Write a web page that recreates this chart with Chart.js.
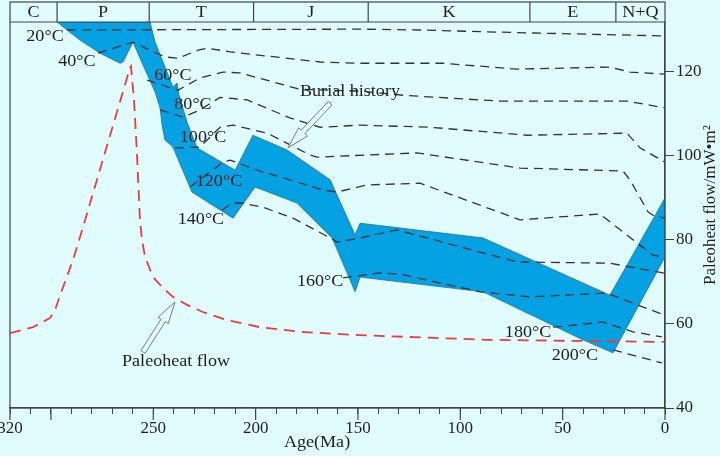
<!DOCTYPE html>
<html>
<head>
<meta charset="utf-8">
<script src="https://cdn.jsdelivr.net/npm/chart.js@4.4.1/dist/chart.umd.min.js"></script>
<style>
  html, body { margin: 0; padding: 0; background: #e1fcfd; }
</style>
</head>
<body>
<canvas id="myChart" width="720" height="456"></canvas>
<script>
// geologic periods on the top band (boundaries in Ma)
const periods = ['C', 'P', 'T', 'J', 'K', 'E', 'N+Q'];
const periodBounds = [320, 297, 252, 201, 145, 66, 24, 0];

const ageLabels = [320, 250, 200, 150, 100, 50, 0];
const ageMajor = [320, 300, 250, 200, 150, 100, 50, 0];
const flowTicks = [40, 60, 80, 100, 120];

// paleoheat flow curve (Ma, mW/m2)
const heatAge = [320, 308.8, 300.4, 298, 294.1, 289.2, 284.3, 261.4, 260.9, 259.4, 258, 256.5, 255.5, 254, 250.1, 245.2, 240.4, 233.5, 225.7, 214, 197.9, 178.3, 149, 87, 0];
const heatFlow = [57.8, 59.2, 61.4, 63.3, 68.7, 75.2, 83.0, 120.8, 121.2, 113.2, 100.6, 84.7, 79.9, 75.9, 71.1, 68.5, 66.4, 64.5, 62.8, 60.9, 59.2, 58.1, 57.3, 56.2, 55.7];

// burial history band outline, read in the same plot units
const burialAge = [297.0, 251.6, 249.1, 243.3, 240.4, 238.4, 237.4, 233.5, 228.6, 210.0, 201.3, 184.7, 163.6, 151.4, 149.0, 88.9, 26.9, 0, 0, 25.4, 40.1, 88.9, 149.0, 151.4, 162.6, 179.8, 200.3, 211.0, 231.1, 240.4, 244.3, 245.7, 246.7, 249.1, 255.0, 259.9, 262.3, 264.8, 266.2, 276.0, 285.8, 292.1, 297.0];
const burialVal = [131.7, 131.7, 126.9, 119.8, 116.2, 117.2, 114.3, 107.9, 101.8, 96.5, 104.8, 101.3, 94.2, 81.1, 83.9, 80.4, 66.8, 89.9, 75.9, 53.1, 56.2, 67.6, 71.1, 67.6, 80.4, 88.7, 92.5, 85.1, 91.3, 102.0, 103.7, 107.2, 111.3, 115.1, 121.5, 126.9, 124.6, 122.2, 121.9, 124.3, 127.4, 129.8, 131.7];

// isotherms [Ma, value]
const iso20 = [[292.1, 129.8], [149.0, 130.0], [119.7, 129.8], [66.0, 129.1], [0, 128.4]];
const iso40 = [[277.0, 124.3], [259.9, 126.9], [251.6, 125.0], [244.3, 123.4], [237.9, 123.1], [228.1, 125.0], [223.7, 125.5], [212.5, 124.6], [168.5, 122.2], [149.0, 121.9], [108.5, 121.9], [72.3, 120.5], [26.9, 121.0], [17.1, 119.8], [0, 119.3]];
const iso60 = [[253.0, 117.9], [237.9, 115.5], [227.2, 118.4], [215.9, 119.8], [207.6, 119.6], [189.5, 117.2], [178.3, 115.7], [149.0, 115.3], [128.0, 114.3], [80.6, 112.9], [18.6, 112.9], [0, 111.3]];
const iso80 = [[246.7, 110.8], [235.5, 109.1], [227.2, 110.8], [217.4, 113.8], [204.2, 113.2], [183.2, 108.9], [168.5, 106.7], [149.0, 107.2], [114.8, 106.7], [67.4, 104.8], [18.6, 105.3], [12.2, 101.8], [0, 98.4]];
const iso100 = [[239.4, 101.8], [227.2, 102.0], [217.4, 106.7], [211.0, 107.2], [194.4, 105.3], [173.4, 100.1], [170.0, 99.6], [121.2, 100.6], [70.8, 97.0], [20.5, 96.3], [17.1, 94.2], [8.3, 86.6], [5.9, 85.8], [0, 85.1]];
const iso120 = [[232.0, 92.5], [215.9, 98.4], [212.5, 98.9], [199.3, 96.5], [179.8, 93.7], [167.1, 91.8], [160.2, 91.3], [145.6, 93.0], [119.7, 93.4], [70.8, 84.7], [31.8, 86.1], [5.9, 76.3], [0, 75.9]];
const iso140 = [[216.4, 87.0], [211.5, 88.7], [206.6, 88.7], [196.4, 87.7], [181.7, 85.1], [163.6, 80.4], [160.2, 79.4], [149.0, 80.4], [130.9, 82.3], [72.3, 74.7], [26.9, 74.4], [0, 72.0]];
const iso160 = [[157.3, 70.9], [139.2, 72.1], [129.5, 71.8], [90.4, 67.6], [66.0, 66.4], [28.3, 67.3], [15.6, 64.9], [1.5, 62.3]];
const iso180 = [[54.7, 59.2], [30.3, 60.4], [15.6, 58.1], [1.5, 56.9]];
const iso200 = [[25.4, 53.8], [1.5, 50.7]];

const isoTexts = ['20°C', '40°C', '60°C', '80°C', '100°C', '120°C', '140°C', '160°C', '180°C', '200°C'];
const isoTextAt = [[302.9, 128.1], [287.3, 122.2], [240.4, 118.9], [230.6, 112.0], [225.7, 104.1], [217.9, 93.7], [226.7, 84.7], [168.5, 69.9], [66.9, 57.8], [44.0, 52.4]];

const bg = '#e1fcfd';
const ink = '#231f20';
const serif = "'Liberation Serif', 'Times New Roman', serif";

function toPoints(list) {
    return list.map(p => ({x: p[0], y: p[1]}));
}

// the source figure's lettering is a little wide, so stretch it sideways
function wideText(ctx, text, x, y) {
    ctx.save();
    ctx.translate(x, y);
    ctx.scale(1.13, 1);
    ctx.fillText(text, 0, 0);
    ctx.restore();
}

function hollowArrow(ctx, x1, y1, x2, y2) {
    const dx = x2 - x1, dy = y2 - y1, len = Math.hypot(dx, dy);
    const ux = dx / len, uy = dy / len, nx = -uy, ny = ux;
    const head = 22, hw = 6, sw = 2.5;
    const bx = x2 - ux * head, by = y2 - uy * head;
    const p = [
        [x1 + nx * sw, y1 + ny * sw], [bx + nx * sw, by + ny * sw], [bx + nx * hw, by + ny * hw], [x2, y2],
        [bx - nx * hw, by - ny * hw], [bx - nx * sw, by - ny * sw], [x1 - nx * sw, y1 - ny * sw]
    ];
    ctx.beginPath();
    p.forEach((q, i) => i ? ctx.lineTo(q[0], q[1]) : ctx.moveTo(q[0], q[1]));
    ctx.closePath();
    ctx.fillStyle = bg;
    ctx.fill();
    ctx.strokeStyle = '#7d7d7d';
    ctx.lineWidth = 1;
    ctx.stroke();
}

const decor = {
    id: 'decor',
    beforeDraw(chart) {
        const ctx = chart.ctx;
        ctx.save();
        ctx.fillStyle = bg;
        ctx.fillRect(0, 0, chart.width, chart.height);
        ctx.restore();
    },
    afterDatasetsDraw(chart) {
        const ctx = chart.ctx, xs = chart.scales.x, ys = chart.scales.y;
        const px = a => xs.getPixelForValue(a), py = v => ys.getPixelForValue(v);
        ctx.save();
        // arrows
        hollowArrow(ctx, px(163.6), py(112.4), px(184.2), py(101.8));
        hollowArrow(ctx, px(255.0), py(53.3), px(239.4), py(65.2));
        ctx.fillStyle = ink;
        ctx.font = '16px ' + serif;
        ctx.textAlign = 'center';
        ctx.textBaseline = 'middle';
        isoTexts.forEach((t, i) => wideText(ctx, t, px(isoTextAt[i][0]), py(isoTextAt[i][1])));
        wideText(ctx, 'Burial history', px(153.9), py(115.1));
        wideText(ctx, 'Paleoheat flow', px(238.9), py(50.9));
        ctx.restore();
    },
    afterDraw(chart) {
        const ctx = chart.ctx, area = chart.chartArea, xs = chart.scales.x;
        const top = 2;
        ctx.save();
        ctx.strokeStyle = '#444';
        ctx.lineWidth = 1.2;
        ctx.strokeRect(area.left, top, area.right - area.left, area.bottom - top);
        ctx.beginPath();
        ctx.moveTo(area.left, area.top);
        ctx.lineTo(area.right, area.top);
        for (let i = 1; i < periodBounds.length - 1; i++) {
            const x = xs.getPixelForValue(periodBounds[i]);
            ctx.moveTo(x, top);
            ctx.lineTo(x, area.top);
        }
        // longer ticks every 50 Ma
        for (const v of ageMajor) {
            const x = xs.getPixelForValue(v);
            ctx.moveTo(x, area.bottom);
            ctx.lineTo(x, area.bottom + 12);
        }
        ctx.stroke();

        ctx.fillStyle = ink;
        ctx.font = '16px ' + serif;
        ctx.textAlign = 'center';
        ctx.textBaseline = 'middle';
        for (let i = 0; i < periods.length; i++) {
            const x = (xs.getPixelForValue(periodBounds[i]) + xs.getPixelForValue(periodBounds[i + 1])) / 2;
            wideText(ctx, periods[i], x, (top + area.top) / 2 + 1);
        }
        wideText(ctx, 'Age(Ma)', xs.getPixelForValue(170), 443);

        ctx.translate(711, 205);
        ctx.rotate(-Math.PI / 2);
        ctx.font = '17px ' + serif;
        ctx.fillText('Paleoheat flow/mW•m²', 0, 0);
        ctx.restore();
    }
};

const lineStyle = {borderColor: '#333', borderWidth: 1.3, borderDash: [9, 6], pointRadius: 0, fill: false, order: 2};
const isoLines = [iso20, iso40, iso60, iso80, iso100, iso120, iso140, iso160, iso180, iso200];

const datasets = [{
    label: 'Paleoheat flow',
    data: heatAge.map((a, i) => ({x: a, y: heatFlow[i]})),
    borderColor: '#f23a3a',
    borderWidth: 1.8,
    borderDash: [11, 7],
    pointRadius: 0,
    fill: false,
    order: 1
}];
isoLines.forEach((l, i) => datasets.push(Object.assign({label: isoTexts[i], data: toPoints(l)}, lineStyle)));
datasets.push({
    label: 'Burial history',
    data: burialAge.map((a, i) => ({x: a, y: burialVal[i]})),
    backgroundColor: '#04a1e3',
    borderColor: '#1d6f9c',
    borderWidth: 0.8,
    pointRadius: 0,
    fill: 'shape',
    order: 3
});

const ctx = document.getElementById('myChart');
const myChart = new Chart(ctx, {
    type: 'line',
    data: {datasets},
    plugins: [decor],
    options: {
        responsive: false,
        animation: false,
        layout: {padding: {left: 10, top: 22, right: 0, bottom: 0}},
        plugins: {legend: {display: false}, tooltip: {enabled: false}},
        scales: {
            x: {
                type: 'linear',
                min: 0,
                max: 320,
                reverse: true,
                afterBuildTicks: scale => {
                    const t = [];
                    for (let v = 0; v <= 320; v += 10) t.push({value: v});
                    scale.ticks = t;
                },
                afterFit: scale => { scale.height = 48; },
                grid: {drawOnChartArea: false, tickLength: 6, color: '#444'},
                border: {color: '#444', width: 1.2},
                ticks: {
                    autoSkip: false,
                    maxRotation: 0,
                    minRotation: 0,
                    padding: 4,
                    color: ink,
                    font: {family: serif, size: 17},
                    callback: v => ageLabels.includes(v) ? String(v) : ''
                }
            },
            y: {
                type: 'linear',
                position: 'right',
                min: 40,
                max: 131.7,
                afterBuildTicks: scale => { scale.ticks = flowTicks.map(v => ({value: v})); },
                afterFit: scale => { scale.width = 55; },
                grid: {drawOnChartArea: false, tickLength: 9, color: '#444'},
                border: {color: '#444', width: 1.2},
                ticks: {padding: 2, color: ink, font: {family: serif, size: 17}}
            }
        }
    }
});
</script>
</body>
</html>
